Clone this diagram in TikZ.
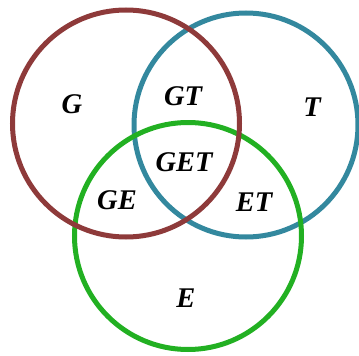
\documentclass[tikz,border=0pt]{standalone}
\usepackage{fontspec}
\setmainfont{Liberation Serif}
\definecolor{gred}{HTML}{8E3A3A}
\definecolor{tblue}{HTML}{33889E}
\definecolor{egreen}{HTML}{22B022}
\begin{document}
\begin{tikzpicture}[x=1pt,y=-1pt,
  ring/.style={line width=5pt},
  lbl/.style={font=\fontsize{28.5}{32}\selectfont\bfseries\itshape, inner sep=0pt}]
\useasboundingbox (0,0) rectangle (359,356);
% the three sets, drawn back to front
\draw[ring, tblue] (246,125) circle[radius=112];
\draw[ring, egreen] (188,236) circle[radius=113.5];
\draw[ring, gred] (126,123.5) circle[radius=113.5];
% region labels
\node[lbl] (g)   at (72,104)  {G};
\node[lbl] (gt)  at (183,96)  {GT};
\node[lbl] (t)   at (312,107) {T};
\node[lbl] (get) at (184,162) {GET};
\node[lbl] (ge)  at (117,200) {GE};
\node[lbl] (et)  at (254,202) {ET};
\node[lbl] (e)   at (186,298) {E};
\end{tikzpicture}
\end{document}
